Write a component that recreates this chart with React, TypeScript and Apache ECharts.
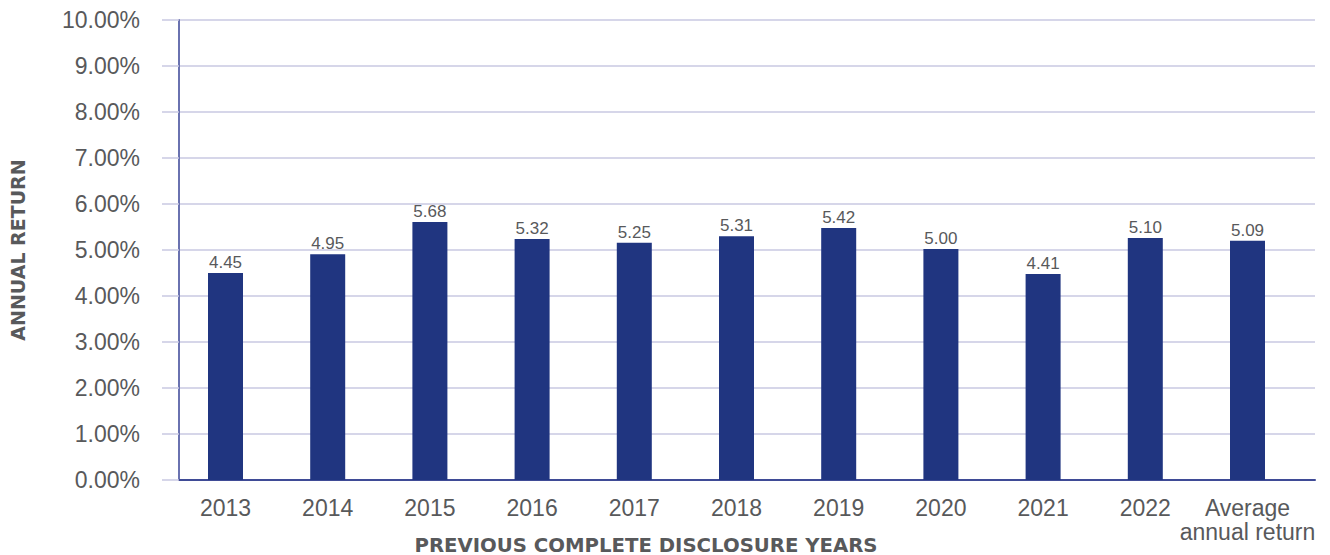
import React, { useEffect, useRef } from "react";
import * as echarts from "echarts";

const categories = ["2013", "2014", "2015", "2016", "2017", "2018", "2019", "2020", "2021", "2022", "Average\nannual return"];
// bar heights as drawn in the picture (percent)
const barValues = [4.5, 4.91, 5.61, 5.24, 5.16, 5.3, 5.48, 5.02, 4.48, 5.26, 5.2];
// value labels printed above the bars
const labelValues = ["4.45", "4.95", "5.68", "5.32", "5.25", "5.31", "5.42", "5.00", "4.41", "5.10", "5.09"];
const yMin = 0;
const yMax = 10;
const yInterval = 1;

const textGray = "#58595b";
const barColor = "#203580";
const gridColor = "#c9c9e2";

export default function App() {
  const ref = useRef<HTMLDivElement>(null);
  useEffect(() => {
    document.body.style.margin = "0";
    if (!ref.current) return;
    const chart = echarts.init(ref.current, null, { renderer: "svg" });
    chart.setOption({
      animation: false,
      grid: [
        { left: 179, right: 15, top: 20, bottom: 75 },
        { left: 174.4, right: 31.4, top: 20, bottom: 75 },
      ],
      xAxis: [
        {
          gridIndex: 0,
          type: "value",
          min: 0,
          max: 1,
          axisLabel: { show: false },
          axisTick: { show: false },
          splitLine: { show: false },
          axisLine: { show: true, onZero: false, lineStyle: { color: "#3f4b96", width: 2 } },
        },
        {
          gridIndex: 1,
          type: "category",
          data: categories,
          axisLine: { show: false },
          axisTick: { show: false },
          axisLabel: {
            color: textGray,
            fontSize: 23,
            lineHeight: 24,
            margin: 16,
            fontFamily: "Liberation Sans, Arial, sans-serif",
            interval: 0,
          },
        },
      ],
      yAxis: [
        {
          gridIndex: 0,
          type: "value",
          min: yMin,
          max: yMax,
          interval: yInterval,
          axisLine: { show: true, lineStyle: { color: "#6a72b0", width: 2 } },
          axisTick: { show: true, length: 17, lineStyle: { color: gridColor, width: 1.5 } },
          axisLabel: {
            color: textGray,
            fontSize: 23,
            margin: 39,
            fontFamily: "Liberation Sans, Arial, sans-serif",
            formatter: (v: number) => v.toFixed(2) + "%",
          },
          splitLine: { show: true, lineStyle: { color: gridColor, width: 1.5 } },
          name: "ANNUAL RETURN",
          nameLocation: "middle",
          nameRotate: 90,
          nameGap: 152,
          nameTextStyle: {
            color: textGray,
            fontSize: 19,
            fontWeight: "bold",
            fontFamily: "DejaVu Sans, sans-serif",
          },
        },
        {
          gridIndex: 1,
          type: "value",
          min: yMin,
          max: yMax,
          interval: yInterval,
          show: false,
          splitLine: { show: false },
        },
      ],
      series: [
        {
          type: "bar",
          xAxisIndex: 1,
          yAxisIndex: 1,
          data: barValues,
          barWidth: 35,
          itemStyle: { color: barColor },
          label: {
            show: true,
            position: "top",
            distance: 2,
            color: textGray,
            fontSize: 17,
            fontFamily: "Liberation Sans, Arial, sans-serif",
            formatter: (p: any) => labelValues[p.dataIndex],
          },
        },
      ],
      graphic: [
        {
          type: "text",
          x: 646,
          y: 545,
          style: {
            text: "PREVIOUS COMPLETE DISCLOSURE YEARS",
            fill: textGray,
            fontSize: 19.7,
            fontWeight: "bold",
            fontFamily: "DejaVu Sans, sans-serif",
            align: "center",
            verticalAlign: "middle",
          },
        },
      ],
    });
    return () => chart.dispose();
  }, []);
  return <div ref={ref} style={{ width: 1330, height: 555 }} />;
}
